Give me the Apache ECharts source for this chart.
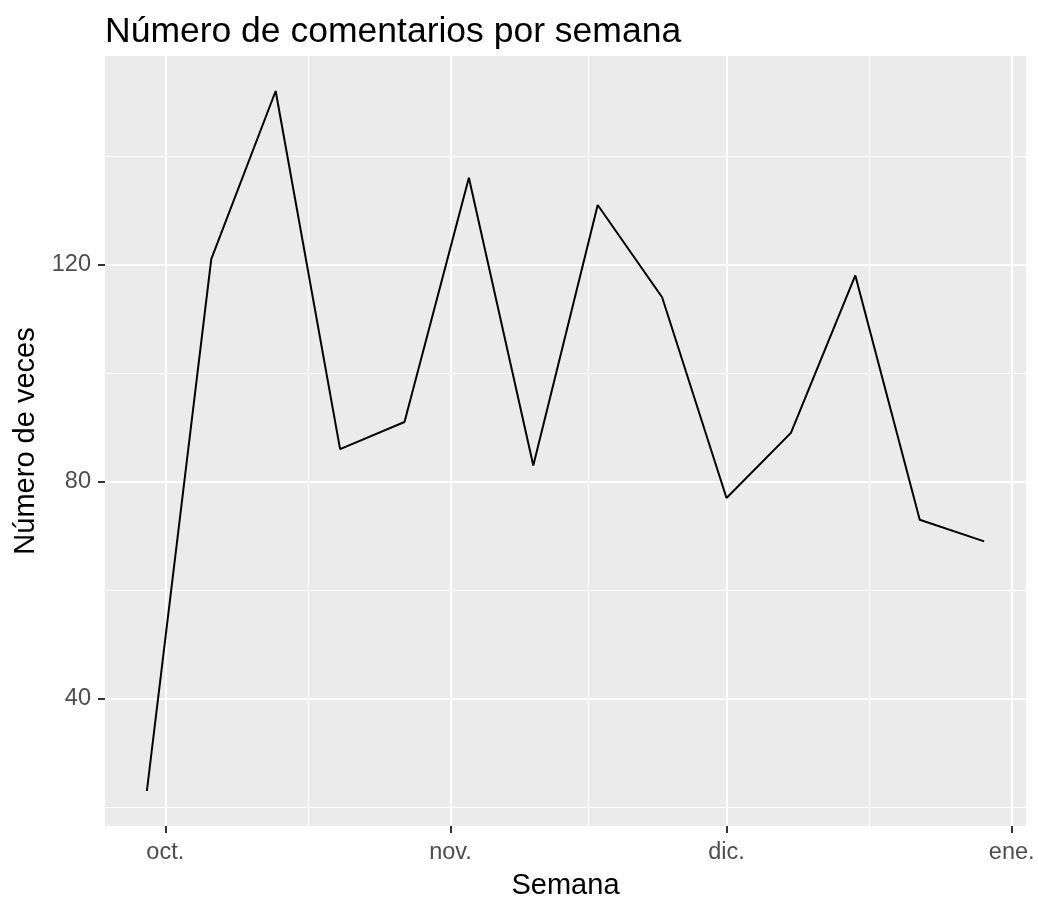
<!DOCTYPE html>
<html>
<head>
<meta charset="utf-8">
<script src="https://cdn.jsdelivr.net/npm/echarts@6/dist/echarts.min.js"></script>
<style>
html, body { margin: 0; padding: 0; background: #fff; }
#chart { width: 1038px; height: 899px; }
</style>
</head>
<body>
<div id="chart"></div>
<script>
// weekly data
const semanas = ['2019-09-29', '2019-10-06', '2019-10-13', '2019-10-20', '2019-10-27', '2019-11-03', '2019-11-10',
    '2019-11-17', '2019-11-24', '2019-12-01', '2019-12-08', '2019-12-15', '2019-12-22', '2019-12-29']
const comentarios = [23, 121, 152, 86, 91, 136, 83, 131, 114, 77, 89, 118, 73, 69]

// axis breaks
const monthBreaks = ['2019-10-01', '2019-11-01', '2019-12-01', '2020-01-01']
const monthLabels = ['oct.', 'nov.', 'dic.', 'ene.']
const yBreaks = [40, 80, 120]
const yMinorBreaks = [20, 60, 100, 140]

const fontFamily = '"Liberation Sans", Arial, sans-serif'

const xTimes = semanas.map(d => Date.parse(d))
const xMajor = monthBreaks.map(d => Date.parse(d))
const xMinor = []
for (let i = 0; i < xMajor.length - 1; i++) {
    xMinor.push((xMajor[i] + xMajor[i + 1]) / 2)
}

// ggplot style 5% expansion
const xSpan = xTimes[xTimes.length - 1] - xTimes[0]
const xMin = xTimes[0] - 0.05 * xSpan
const xMax = xTimes[xTimes.length - 1] + 0.05 * xSpan
const yLo = Math.min(...comentarios)
const yHi = Math.max(...comentarios)
const yMin = yLo - 0.05 * (yHi - yLo)
const yMax = yHi + 0.05 * (yHi - yLo)

const gridLine = (width) => ({ color: '#ffffff', width: width, type: 'solid' })

const gridMarks = []
xMinor.forEach(v => gridMarks.push({ xAxis: v, lineStyle: gridLine(1.1) }))
yMinorBreaks.forEach(v => gridMarks.push({ yAxis: v, lineStyle: gridLine(1.1) }))
xMajor.forEach(v => gridMarks.push({ xAxis: v, lineStyle: gridLine(2) }))
yBreaks.forEach(v => gridMarks.push({ yAxis: v, lineStyle: gridLine(2) }))

const chart = echarts.init(document.getElementById('chart'))
chart.setOption({
    animation: false,
    textStyle: { fontFamily: fontFamily },
    title: {
        text: 'Número de comentarios por semana',
        left: 100,
        top: 9,
        textStyle: { fontFamily: fontFamily, fontSize: 35.5, fontWeight: 'normal', color: '#000' }
    },
    grid: {
        left: 105,
        right: 12,
        top: 56,
        bottom: 73,
        outerBoundsMode: 'none',
        containLabel: false,
        show: true,
        backgroundColor: '#EBEBEB',
        borderWidth: 0
    },
    xAxis: {
        type: 'value',
        min: xMin,
        max: xMax,
        name: 'Semana',
        nameLocation: 'middle',
        nameGap: 45,
        nameTextStyle: { fontFamily: fontFamily, fontSize: 29, color: '#000' },
        axisLine: { show: false },
        splitLine: { show: false },
        axisTick: {
            show: true,
            customValues: xMajor,
            length: 7,
            lineStyle: { color: '#333', width: 2 }
        },
        axisLabel: {
            customValues: xMajor,
            margin: 15,
            fontSize: 23.5,
            color: '#4D4D4D',
            fontFamily: fontFamily,
            formatter: (v) => {
                const i = xMajor.indexOf(v)
                return i >= 0 ? monthLabels[i] : ''
            }
        }
    },
    yAxis: {
        type: 'value',
        min: yMin,
        max: yMax,
        name: 'Número de veces',
        nameLocation: 'middle',
        nameGap: 59,
        nameTextStyle: { fontFamily: fontFamily, fontSize: 29, color: '#000' },
        axisLine: { show: false },
        splitLine: { show: false },
        axisTick: {
            show: true,
            customValues: yBreaks,
            length: 7,
            lineStyle: { color: '#333', width: 2 }
        },
        axisLabel: {
            customValues: yBreaks,
            margin: 14,
            fontSize: 23.5,
            color: '#4D4D4D',
            fontFamily: fontFamily
        }
    },
    series: [
        {
            type: 'line',
            data: [],
            silent: true,
            z: 1,
            markLine: {
                z: 1,
                silent: true,
                symbol: 'none',
                label: { show: false },
                animation: false,
                data: gridMarks
            }
        },
        {
            type: 'line',
            z: 10,
            data: xTimes.map((t, i) => [t, comentarios[i]]),
            showSymbol: false,
            lineStyle: { color: '#000', width: 2 },
            itemStyle: { color: '#000' }
        }
    ]
})
</script>
</body>
</html>
